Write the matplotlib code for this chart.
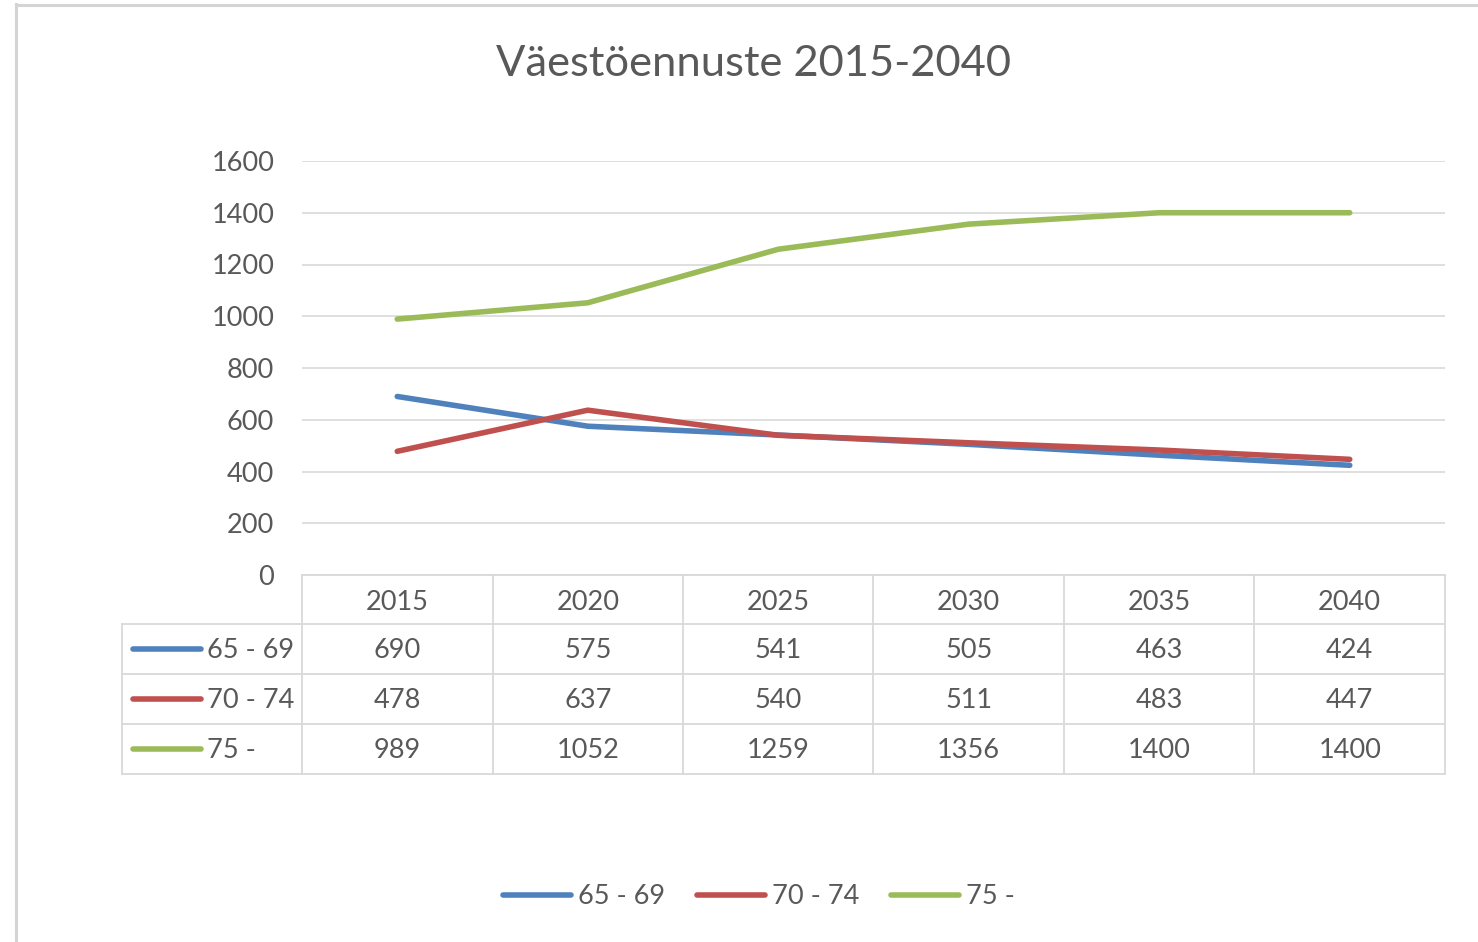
import numpy as np
import matplotlib.pyplot as plt
import matplotlib.transforms as mtransforms
from matplotlib.lines import Line2D

plt.rcParams['font.family'] = ['Lato', 'DejaVu Sans']

vuodet = ['2015', '2020', '2025', '2030', '2035', '2040']
ryhmat = ['65 - 69', '70 - 74', '75 -']
v65_69 = [690, 575, 541, 505, 463, 424]
v70_74 = [478, 637, 540, 511, 483, 447]
v75 = [989, 1052, 1259, 1356, 1400, 1400]
sarjat = [v65_69, v70_74, v75]
varit = ['#4F81BD', '#C0504D', '#9BBB59']
y_ticks = [0, 200, 400, 600, 800, 1000, 1200, 1400, 1600]

W, H = 1478, 942
txt = '#595959'
grid = '#D9D9D9'
fs = 19.5
lw = 4.0

fig = plt.figure(figsize=(W / 100, H / 100), dpi=100)

def fx(px):
    return px / W

def fy(py):
    return 1 - py / H

# kaavion kehys (vain vasen ja ylä näkyvissä)
fig.add_artist(Line2D([fx(15.5), fx(15.5)], [fy(4), fy(H + 5)], color='#D4D4D4', lw=2.2))
fig.add_artist(Line2D([fx(15.5), fx(W + 5)], [fy(4.5), fy(4.5)], color='#D4D4D4', lw=2.2))

x_left, x_right, y_top, y_bot = 302, 1445, 161, 575
ax = fig.add_axes([fx(x_left), fy(y_bot), fx(x_right) - fx(x_left), fy(y_top) - fy(y_bot)])
x = np.arange(len(vuodet))
for vals, c in zip(sarjat, varit):
    ax.plot(x, vals, color=c, lw=lw, solid_capstyle='round', zorder=3)
ax.set_xlim(-0.5, len(vuodet) - 0.5)
ax.set_ylim(0, 1600)
ax.set_yticks(y_ticks)
ax.set_yticklabels([str(t) for t in y_ticks], fontsize=fs, color=txt)
ax.tick_params(axis='y', length=0, pad=20)
ax.set_xticks([])
ax.grid(axis='y', color=grid, lw=1.2)
ax.set_axisbelow(True)
for s in ax.spines.values():
    s.set_visible(False)

fig.text(fx(753), fy(64), 'Väestöennuste 2015-2040', fontsize=31.3, color=txt,
         ha='center', va='center')

# datataulukko
bt = mtransforms.blended_transform_factory(ax.transData, fig.transFigure)
rows_y = [575, 624, 674, 724, 774]
lab_left = 122
fig.add_artist(Line2D([fx(x_left), fx(x_right)], [fy(rows_y[0])] * 2, color=grid, lw=1.3))
for ry in rows_y[1:]:
    fig.add_artist(Line2D([fx(lab_left), fx(x_right)], [fy(ry)] * 2, color=grid, lw=1.3))
fig.add_artist(Line2D([fx(lab_left)] * 2, [fy(rows_y[1]), fy(rows_y[-1])], color=grid, lw=1.3))
for i in range(len(vuodet) + 1):
    ax.add_artist(Line2D([i - 0.5] * 2, [fy(rows_y[0]), fy(rows_y[-1])], color=grid, lw=1.3,
                         transform=bt, clip_on=False))

for i, v in enumerate(vuodet):
    ax.text(i, fy(603), v, transform=bt, ha='center', va='center', fontsize=fs, color=txt)
for r, (nimi, vals, c) in enumerate(zip(ryhmat, sarjat, varit)):
    ym = (rows_y[r + 1] + rows_y[r + 2]) / 2
    fig.add_artist(Line2D([fx(133), fx(201)], [fy(ym)] * 2, color=c, lw=lw, solid_capstyle='round'))
    fig.text(fx(207), fy(ym + 2), nimi, ha='left', va='center', fontsize=fs, color=txt)
    for i, v in enumerate(vals):
        ax.text(i, fy(ym + 2), str(v), transform=bt, ha='center', va='center', fontsize=fs, color=txt)

# selite
leg_x = [503, 697, 891]
for lx, nimi, c in zip(leg_x, ryhmat, varit):
    fig.add_artist(Line2D([fx(lx), fx(lx + 68)], [fy(895)] * 2, color=c, lw=lw,
                          solid_capstyle='round'))
    fig.text(fx(lx + 75), fy(897), nimi, ha='left', va='center', fontsize=fs, color=txt)

fig.savefig('out.png', dpi=100)
